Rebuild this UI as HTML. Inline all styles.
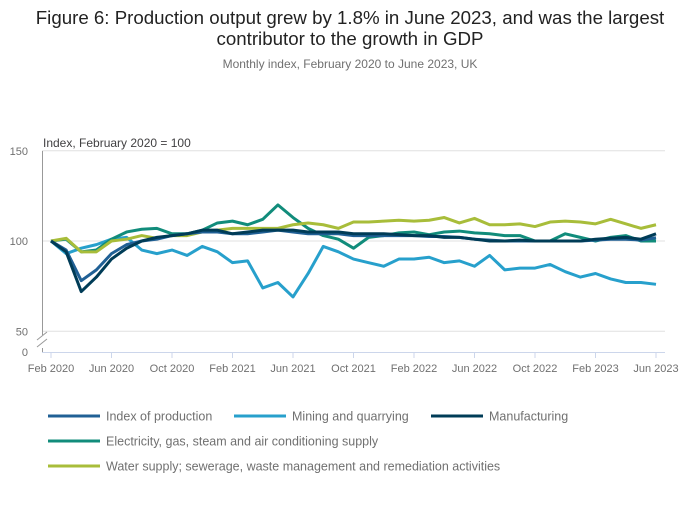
<!DOCTYPE html>
<html><head><meta charset="utf-8"><style>
body{margin:0;background:#fff;font-family:"Liberation Sans",sans-serif;}
svg text{font-family:"Liberation Sans",sans-serif;}
</style></head><body>
<svg width="700" height="502" viewBox="0 0 700 502">
<text x="350" y="24" text-anchor="middle" font-size="18.7" fill="#222">Figure 6: Production output grew by 1.8% in June 2023, and was the largest</text>
<text x="350" y="45" text-anchor="middle" font-size="18.7" fill="#222">contributor to the growth in GDP</text>
<text x="350" y="68" text-anchor="middle" font-size="12" fill="#707070">Monthly index, February 2020 to June 2023, UK</text>
<text x="43" y="147" font-size="12" fill="#414042">Index, February 2020 = 100</text>
<g id="grid"></g><g id="axes"></g><g id="series"></g><g id="legend"></g>
</svg>
<script>
const months=["Feb 2020","Jun 2020","Oct 2020","Feb 2021","Jun 2021","Oct 2021","Feb 2022","Jun 2022","Oct 2022","Feb 2023","Jun 2023"];
const yTicks=[50,100,150];
const iop=[100,95,78,84,93,98,100,101,103,104,105,105,104,104,105,106,105,104,104,104,103,103,103,103,103,102.5,102.5,102,101,100.5,100,100,100,100,100,100,100.5,101,101,100.5,101.8];
const mining=[100,93,96,98,101,102,95,93,95,92,97,94,88,89,74,77,69,82,97,94,90,88,86,90,90,91,88,89,86,92,84,85,85,87,83,80,82,79,77,77,76];
const manuf=[100,94,72,80,90,96,100,102,103,104,106,106,104,105,106,106,106,105,105,105,104,104,104,103.5,103,103,102,102,101,100,100,100.5,100,100,100,100,101,101.5,102,101,104];
const elec=[100,101,94,95,101,105,106.5,107,104,104,106,110,111,109,112,120,113,107,103,101,96,102,103,104.5,105,103.5,105,105.5,104.5,104,103,103,100,100,104,102,100,102,103,100,100];
const water=[100,101.5,94,94,100,101,103,101.5,103,103,105,106,107,107,107,107,109,110,109,107,110.5,110.5,111,111.5,111,111.5,113,110,112.5,109,109,109.5,108,110.5,111,110.5,109.5,112,109.5,107,109];
const names=["Index of production","Mining and quarrying","Manufacturing","Electricity, gas, steam and air conditioning supply","Water supply; sewerage, waste management and remediation activities"];
const colors=["#206095","#27a0cc","#003c57","#118c7b","#a8bd3a"];
const NS="http://www.w3.org/2000/svg";
const X=i=>51+i*15.125;
const Y=v=>241-(v-100)*1.805;
function mk(t,a,p){const e=document.createElementNS(NS,t);for(const k in a)e.setAttribute(k,a[k]);p.appendChild(e);return e;}
const grid=document.getElementById('grid'),axes=document.getElementById('axes'),ser=document.getElementById('series'),leg=document.getElementById('legend');
yTicks.forEach(v=>{const l=mk('line',{x1:42,x2:665,y1:Y(v),y2:Y(v),stroke:'#e0e0e0','stroke-width':1},grid);


const t=mk('text',{x:28,y:Y(v)+4,'text-anchor':'end','font-size':11,fill:'#707070'},axes);t.textContent=v;

});
const z=mk('text',{x:28,y:356,'text-anchor':'end','font-size':11,fill:'#707070'},axes);z.textContent='0';


const ya=mk('path',{d:'M42.5 151V335M42.5 348V352M37 340L47 332M37 347L47 339',stroke:'#999',fill:'none','stroke-width':1},axes);


const xa=mk('line',{x1:42,x2:665,y1:352.5,y2:352.5,stroke:'#ccd6eb','stroke-width':1},axes);


months.forEach((m,k)=>{const x=X(k*4);mk('line',{x1:x,x2:x,y1:352,y2:358,stroke:'#ccd6eb'},axes);
const t=mk('text',{x:x,y:372,'text-anchor':'middle','font-size':11,fill:'#707070'},axes);t.textContent=m;

});
const order=[[1,mining],[3,elec],[4,water],[0,iop],[2,manuf]];
order.forEach(([ci,d])=>{const p=mk('polyline',{points:d.map((v,i)=>X(i)+','+Y(v)).join(' '),fill:'none',stroke:colors[ci],'stroke-width':3,'stroke-linejoin':'round'},ser);

});
const pos=[[48,416],[234,416],[431,416],[48,441],[48,466]];
names.forEach((n,i)=>{const g=mk('g',{},leg);


mk('line',{x1:pos[i][0],x2:pos[i][0]+52,y1:pos[i][1],y2:pos[i][1],stroke:colors[i],'stroke-width':3},g);
const t=mk('text',{x:pos[i][0]+58,y:pos[i][1]+4.5,'font-size':12.5,fill:'#707070'},g);t.textContent=n;});
</script>
</body></html>
